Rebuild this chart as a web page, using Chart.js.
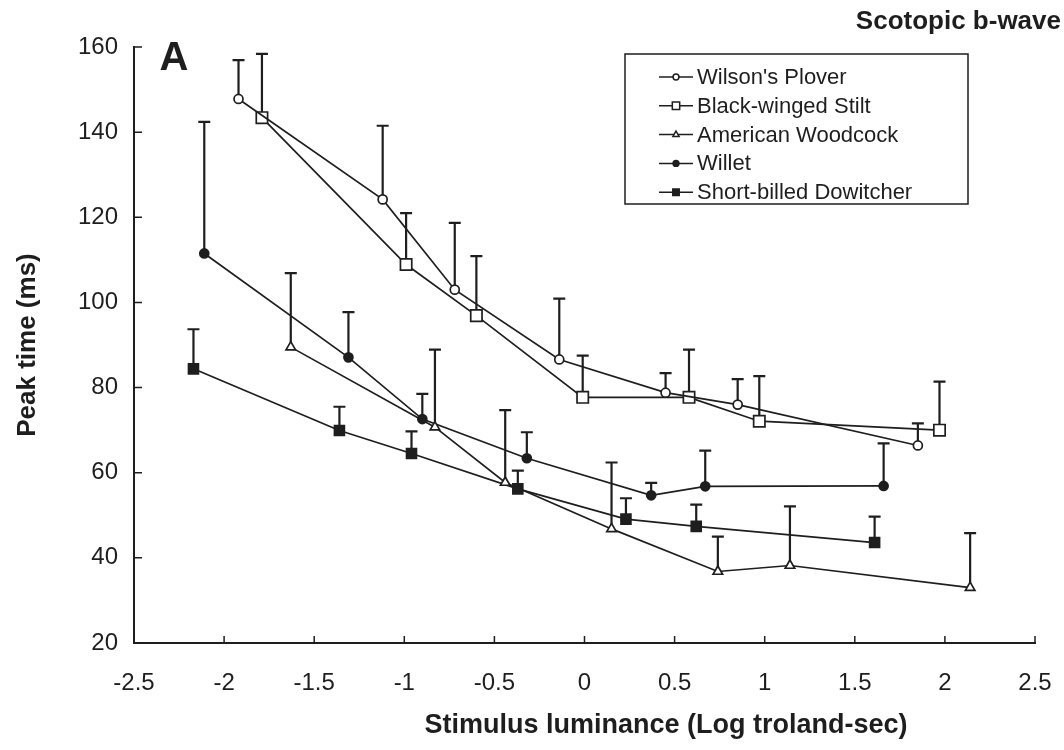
<!DOCTYPE html>
<html>
<head>
<meta charset="utf-8">
<title>Scotopic b-wave peak time</title>
<script src="https://cdn.jsdelivr.net/npm/chart.js@4.4.1/dist/chart.umd.min.js"></script>
<style>
  html, body { margin: 0; padding: 0; background: #fff; }
  #wrap { width: 1064px; height: 750px; }
</style>
</head>
<body>
<div id="wrap"><canvas id="peakChart" width="1064" height="750"></canvas></div>
<script>
// log stimulus luminance (x), mean peak time in ms (y), upward SD bar (sd)
var ploverX = [-1.92, -1.12, -0.72, -0.14, 0.45, 0.85, 1.85];
var ploverY = [147.8, 124.2, 103.0, 86.6, 78.8, 76.0, 66.4];
var ploverSd = [9.1, 17.3, 15.7, 14.3, 4.6, 6.0, 5.2];

var stiltX = [-1.79, -0.99, -0.60, -0.01, 0.58, 0.97, 1.97];
var stiltY = [143.4, 108.9, 96.9, 77.7, 77.7, 72.1, 70.0];
var stiltSd = [15.0, 12.1, 14.0, 9.8, 11.2, 10.6, 11.4];

var woodcockX = [-1.63, -0.83, -0.44, 0.15, 0.74, 1.14, 2.14];
var woodcockY = [89.5, 70.7, 57.7, 46.8, 36.8, 38.2, 33.0];
var woodcockSd = [17.4, 18.2, 17.0, 15.6, 8.2, 13.9, 12.8];

var willetX = [-2.11, -1.31, -0.90, -0.32, 0.37, 0.67, 1.66];
var willetY = [111.5, 87.1, 72.6, 63.4, 54.7, 56.8, 56.9];
var willetSd = [30.9, 10.6, 5.9, 6.1, 2.9, 8.4, 10.0];

var dowitcherX = [-2.17, -1.36, -0.96, -0.37, 0.23, 0.62, 1.61];
var dowitcherY = [84.4, 69.9, 64.5, 56.2, 49.1, 47.4, 43.6];
var dowitcherSd = [9.3, 5.6, 5.2, 4.3, 4.9, 5.1, 6.1];

var xTicks = [-2.5, -2, -1.5, -1, -0.5, 0, 0.5, 1, 1.5, 2, 2.5];
var yTicks = [20, 40, 60, 80, 100, 120, 140, 160];

var ink = '#1e1e1e';
var font = "'Liberation Sans', Arial, sans-serif";

function points(xs, ys, sds) {
    return xs.map(function (x, i) { return { x: x, y: ys[i], sd: sds[i] }; });
}

function series(label, xs, ys, sds, style, radius, filled) {
    return {
        label: label,
        data: points(xs, ys, sds),
        showLine: true,
        borderColor: ink,
        borderWidth: 1.7,
        tension: 0,
        pointStyle: style,
        pointRadius: radius,
        pointBorderWidth: 1.7,
        pointBorderColor: ink,
        pointBackgroundColor: filled ? ink : '#fff'
    };
}

// error bars, inside tick marks, titles, panel letter and boxed legend
var decorations = {
    id: 'decorations',
    beforeDatasetsDraw: function (chart) {
        var ctx = chart.ctx, xs = chart.scales.x, ys = chart.scales.y;
        ctx.save();
        ctx.strokeStyle = ink;
        ctx.lineWidth = 2.2;
        chart.data.datasets.forEach(function (ds) {
            ds.data.forEach(function (p) {
                var px = xs.getPixelForValue(p.x);
                var y0 = ys.getPixelForValue(p.y);
                var y1 = ys.getPixelForValue(p.y + p.sd);
                ctx.beginPath();
                ctx.moveTo(px, y0);
                ctx.lineTo(px, y1);
                ctx.moveTo(px - 6, y1);
                ctx.lineTo(px + 6, y1);
                ctx.stroke();
            });
        });
        ctx.restore();
    },
    afterDraw: function (chart) {
        var ctx = chart.ctx, xs = chart.scales.x, ys = chart.scales.y;
        var area = chart.chartArea;
        ctx.save();
        ctx.strokeStyle = ink;
        ctx.lineWidth = 1.5;
        ctx.beginPath();
        yTicks.forEach(function (v) {
            var py = ys.getPixelForValue(v);
            ctx.moveTo(area.left, py);
            ctx.lineTo(area.left + 8, py);
        });
        xTicks.forEach(function (v) {
            var px = xs.getPixelForValue(v);
            ctx.moveTo(px, area.bottom);
            ctx.lineTo(px, area.bottom - 7);
        });
        ctx.stroke();

        ctx.fillStyle = ink;
        ctx.textBaseline = 'middle';
        ctx.textAlign = 'center';
        ctx.font = 'bold 27px ' + font;
        ctx.fillText('Stimulus luminance (Log troland-sec)', 666, 726);
        ctx.save();
        ctx.translate(28, 345);
        ctx.rotate(-Math.PI / 2);
        ctx.font = 'bold 26px ' + font;
        ctx.fillText('Peak time (ms)', 0, 0);
        ctx.restore();

        ctx.font = 'bold 40px ' + font;
        ctx.fillText('A', 174, 59);

        ctx.textAlign = 'right';
        ctx.font = 'bold 26px ' + font;
        ctx.fillText('Scotopic b-wave', 1061, 22);

        // legend box
        var lx = 625, ly = 54, lw = 343, lh = 150;
        ctx.lineWidth = 1.5;
        ctx.strokeRect(lx, ly, lw, lh);
        ctx.textAlign = 'left';
        ctx.font = '22px ' + font;
        chart.data.datasets.forEach(function (ds, i) {
            var cy = 77 + i * 28.8;
            ctx.lineWidth = 1.5;
            ctx.strokeStyle = ink;
            ctx.beginPath();
            ctx.moveTo(659, cy);
            ctx.lineTo(693, cy);
            ctx.stroke();
            ctx.fillStyle = ds.pointBackgroundColor;
            Chart.helpers.drawPoint(ctx, {
                pointStyle: ds.pointStyle,
                radius: ds.pointRadius * 0.65,
                borderWidth: 1.3,
                rotation: 0
            }, 676, cy);
            ctx.fillStyle = ink;
            ctx.fillText(ds.label, 697, cy + 1);
        });
        ctx.restore();
    }
};

var ctx = document.getElementById('peakChart').getContext('2d');
var chart = new Chart(ctx, {
    type: 'scatter',
    data: {
        datasets: [
            series("Wilson's Plover", ploverX, ploverY, ploverSd, 'circle', 4.5, false),
            series('Black-winged Stilt', stiltX, stiltY, stiltSd, 'rect', 8, false),
            series('American Woodcock', woodcockX, woodcockY, woodcockSd, 'triangle', 5.5, false),
            series('Willet', willetX, willetY, willetSd, 'circle', 4.5, true),
            series('Short-billed Dowitcher', dowitcherX, dowitcherY, dowitcherSd, 'rect', 7, true)
        ]
    },
    options: {
        responsive: false,
        animation: false,
        layout: { padding: { top: 47, right: 29, left: 0, bottom: 0 } },
        plugins: {
            legend: { display: false },
            tooltip: { enabled: false }
        },
        scales: {
            x: {
                type: 'linear',
                min: -2.5,
                max: 2.5,
                afterBuildTicks: function (scale) {
                    scale.ticks = xTicks.map(function (v) { return { value: v }; });
                },
                afterFit: function (scale) {
                    scale.height = 107;
                    scale.paddingLeft = 0;
                    scale.paddingRight = 0;
                },
                grid: { display: true, drawOnChartArea: false, drawTicks: false },
                border: { display: true, color: ink, width: 2 },
                ticks: {
                    color: ink,
                    padding: 26,
                    maxRotation: 0,
                    autoSkip: false,
                    font: { family: font, size: 24 },
                    callback: function (v) { return String(v); }
                }
            },
            y: {
                type: 'linear',
                min: 20,
                max: 160,
                afterBuildTicks: function (scale) {
                    scale.ticks = yTicks.map(function (v) { return { value: v }; });
                },
                afterFit: function (scale) {
                    scale.width = 134;
                    scale.paddingTop = 0;
                    scale.paddingBottom = 0;
                },
                grid: { display: true, drawOnChartArea: false, drawTicks: false },
                border: { display: true, color: ink, width: 2 },
                ticks: {
                    color: ink,
                    padding: 16,
                    font: { family: font, size: 24 },
                    callback: function (v) { return String(v); }
                }
            }
        }
    },
    plugins: [decorations]
});
</script>
</body>
</html>
